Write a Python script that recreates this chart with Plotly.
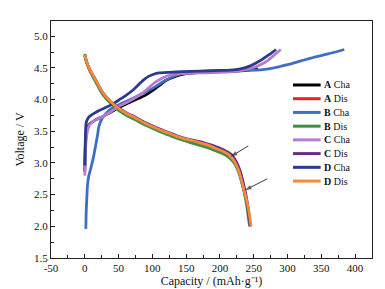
import plotly.graph_objects as go

# ---- data ----
names = ["A Cha", "A Dis", "B Cha", "B Dis", "C Cha", "C Dis", "D Cha", "D Dis"]
letters = ["A", "A", "B", "B", "C", "C", "D", "D"]
kinds = ["Cha", "Dis", "Cha", "Dis", "Cha", "Dis", "Cha", "Dis"]
colors = ["#000000", "#e8202a", "#3d6fc4", "#3f8f47", "#b77ad0", "#6a2a86", "#2b3a8c", "#f08a3c"]

a_cha_x = [0, 0.5, 1.5, 3, 6, 10, 16, 26, 40, 50, 65, 80, 90, 100, 110, 120, 135, 150, 175, 200, 225, 245, 256]
a_cha_y = [2.86, 3.15, 3.40, 3.52, 3.60, 3.64, 3.68, 3.73, 3.81, 3.87, 3.95, 4.02, 4.07, 4.14, 4.22, 4.30, 4.37, 4.41, 4.43, 4.44, 4.45, 4.47, 4.49]

a_dis_x = [0, 2, 5, 9, 14, 20, 26, 38, 50, 62, 75, 87, 99, 112, 124, 136, 148, 160, 173, 185, 196, 205, 212, 217, 221, 225, 229, 233, 237, 241, 243, 245]
a_dis_y = [4.69, 4.61, 4.52, 4.43, 4.34, 4.22, 4.11, 3.96, 3.85, 3.77, 3.70, 3.63, 3.57, 3.51, 3.46, 3.41, 3.37, 3.34, 3.30, 3.26, 3.21, 3.17, 3.13, 3.08, 3.02, 2.94, 2.83, 2.67, 2.50, 2.32, 2.15, 2.00]

b_cha_x = [1.5, 2, 3, 4, 6, 9, 13, 16, 19, 21, 26, 33, 40, 55, 75, 90, 104, 114, 124, 135, 150, 173, 200, 230, 260, 280, 300, 320, 340, 360, 384]
b_cha_y = [1.96, 2.20, 2.45, 2.65, 2.80, 2.92, 3.10, 3.27, 3.45, 3.58, 3.71, 3.80, 3.86, 3.94, 4.04, 4.12, 4.20, 4.27, 4.33, 4.38, 4.42, 4.44, 4.45, 4.46, 4.47, 4.50, 4.55, 4.61, 4.67, 4.72, 4.79]

b_dis_x = [0, 2, 5, 9, 14, 20, 26, 38, 50, 62, 75, 87, 99, 112, 124, 136, 148, 160, 173, 185, 196, 205, 212, 217, 221, 225, 229, 233, 237, 240, 242, 244]
b_dis_y = [4.72, 4.62, 4.52, 4.42, 4.32, 4.20, 4.09, 3.94, 3.83, 3.75, 3.68, 3.61, 3.55, 3.49, 3.44, 3.39, 3.35, 3.31, 3.27, 3.23, 3.18, 3.14, 3.10, 3.05, 3.00, 2.92, 2.81, 2.66, 2.48, 2.30, 2.14, 2.00]

c_cha_x = [0, 0.5, 1, 3, 6, 10, 16, 26, 40, 50, 65, 85, 104, 115, 124, 140, 170, 200, 225, 240, 251, 262, 271, 280, 290]
c_cha_y = [2.80, 3.00, 3.20, 3.45, 3.58, 3.64, 3.68, 3.73, 3.82, 3.89, 3.97, 4.10, 4.27, 4.34, 4.38, 4.41, 4.42, 4.43, 4.45, 4.48, 4.51, 4.56, 4.62, 4.70, 4.79]

c_dis_x = [0, 2, 5, 9, 14, 20, 26, 38, 50, 62, 75, 87, 99, 112, 124, 136, 148, 160, 173, 185, 196, 205, 212, 218, 222, 226, 230, 234, 238, 241, 243, 245]
c_dis_y = [4.70, 4.62, 4.53, 4.44, 4.35, 4.23, 4.12, 3.97, 3.87, 3.79, 3.72, 3.65, 3.59, 3.53, 3.48, 3.43, 3.39, 3.36, 3.33, 3.29, 3.25, 3.21, 3.17, 3.12, 3.06, 2.98, 2.87, 2.71, 2.52, 2.33, 2.16, 2.00]

d_cha_x = [0, 0.5, 1, 1.5, 2.5, 5, 9, 15, 22, 30, 40, 50, 60, 70, 80, 88, 95, 102, 110, 125, 145, 170, 200, 220, 232, 242, 252, 262, 270, 277, 283]
d_cha_y = [2.96, 3.20, 3.45, 3.58, 3.65, 3.71, 3.75, 3.79, 3.83, 3.87, 3.92, 3.99, 4.06, 4.14, 4.24, 4.32, 4.37, 4.40, 4.42, 4.43, 4.44, 4.45, 4.46, 4.47, 4.49, 4.52, 4.57, 4.63, 4.69, 4.74, 4.79]

d_dis_x = [0, 2, 5, 9, 14, 20, 26, 38, 50, 62, 75, 87, 99, 112, 124, 136, 148, 160, 173, 185, 196, 205, 212, 217, 221, 225, 229, 233, 237, 241, 244, 246]
d_dis_y = [4.70, 4.62, 4.53, 4.44, 4.35, 4.23, 4.12, 3.97, 3.86, 3.78, 3.71, 3.64, 3.58, 3.52, 3.47, 3.42, 3.38, 3.35, 3.31, 3.27, 3.22, 3.18, 3.14, 3.09, 3.03, 2.95, 2.84, 2.68, 2.52, 2.34, 2.16, 2.00]

series_x = [a_cha_x, a_dis_x, b_cha_x, b_dis_x, c_cha_x, c_dis_x, d_cha_x, d_dis_x]
series_y = [a_cha_y, a_dis_y, b_cha_y, b_dis_y, c_cha_y, c_dis_y, d_cha_y, d_dis_y]

x_ticks = [-50, 0, 50, 100, 150, 200, 250, 300, 350, 400]
y_ticks = [1.5, 2.0, 2.5, 3.0, 3.5, 4.0, 4.5, 5.0]

# pointer arrows: tail -> head, in data units
arrow_tail_x = [242, 270]
arrow_tail_y = [3.27, 2.75]
arrow_head_x = [216, 237]
arrow_head_y = [3.10, 2.57]

FONT = "Liberation Serif, Times New Roman, serif"

fig = go.Figure()
for xs, ys, n, c in zip(series_x, series_y, names, colors):
    fig.add_trace(go.Scatter(x=xs, y=ys, mode="lines", name=n,
                             line=dict(color=c, width=2.8, shape="spline", smoothing=0.6),
                             showlegend=False))

for tx, ty, hx, hy in zip(arrow_tail_x, arrow_tail_y, arrow_head_x, arrow_head_y):
    fig.add_trace(go.Scatter(x=[tx, hx], y=[ty, hy], mode="lines+markers", showlegend=False,
                             hoverinfo="skip",
                             line=dict(color="#222222", width=0.9),
                             marker=dict(symbol=["circle", "arrow"], size=[0, 7],
                                         angleref="previous", color="#222222",
                                         line=dict(width=0))))

# compact legend drawn in paper space
shapes = []
annotations = []
leg_x0, leg_x1, leg_tx = 0.754, 0.840, 0.845
leg_top, leg_step = 0.730, 0.0579
for i, (L, k, c) in enumerate(zip(letters, kinds, colors)):
    yy = leg_top - i * leg_step
    shapes.append(dict(type="line", xref="paper", yref="paper", x0=leg_x0, x1=leg_x1, y0=yy, y1=yy,
                       line=dict(color=c, width=3)))
    annotations.append(dict(xref="paper", yref="paper", x=leg_tx, y=yy, xanchor="left", yanchor="middle",
                            text=f"<b>{L}</b> {k}", showarrow=False,
                            font=dict(family=FONT, size=10, color="#111111")))

fig.update_layout(
    width=385, height=289,
    margin=dict(l=42, r=21, t=13, b=34),
    paper_bgcolor="white", plot_bgcolor="white",
    font=dict(family=FONT, size=11, color="#111111"),
    annotations=annotations, shapes=shapes,
    showlegend=False,
)
fig.update_xaxes(range=[-50, 425], tickvals=x_ticks, ticktext=[str(v) for v in x_ticks],
                 ticks="inside", ticklen=4, tickwidth=1, tickcolor="#222",
                 minor=dict(dtick=25, tick0=0, ticks="inside", ticklen=2.5, tickcolor="#222"),
                 showline=True, linecolor="#222", linewidth=1.3, mirror=True,
                 showgrid=False, zeroline=False,
                 title=dict(text="Capacity / (mAh·g⁻¹)", standoff=2,
                            font=dict(family=FONT, size=12)),
                 tickfont=dict(family=FONT, size=11))
fig.update_yaxes(range=[1.5, 5.24], tickvals=y_ticks, ticktext=[f"{v:.1f}" for v in y_ticks],
                 ticks="inside", ticklen=4, tickwidth=1, tickcolor="#222",
                 minor=dict(dtick=0.25, tick0=0, ticks="inside", ticklen=2.5, tickcolor="#222"),
                 showline=True, linecolor="#222", linewidth=1.3, mirror=True,
                 showgrid=False, zeroline=False,
                 title=dict(text="Voltage / V", standoff=6, font=dict(family=FONT, size=12)),
                 tickfont=dict(family=FONT, size=11))

fig.write_html("out.html")
